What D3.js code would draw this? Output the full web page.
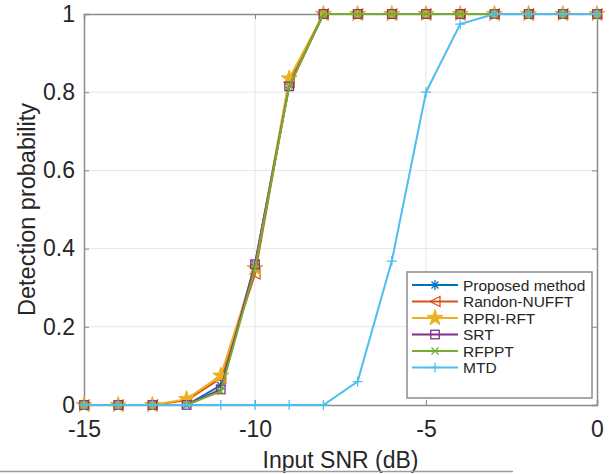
<!DOCTYPE html>
<html>
<head>
<meta charset="utf-8">
<script src="https://cdn.jsdelivr.net/npm/d3@7"></script>
<style>
body{margin:0;background:#fff;}
text{font-family:"Liberation Sans",Arial,sans-serif;fill:#262626;}
</style>
</head>
<body>
<script>
var w=614;
var h=474;
var margin={top:14,right:17,bottom:69,left:84};

// input SNR (dB)
var snr=[-15,-14,-13,-12,-11,-10,-9,-8,-7,-6,-5,-4,-3,-2,-1,0];

var proposed =[0,0,0,0,0.05,0.36,0.82,1,1,1,1,1,1,1,1,1];
var randon   =[0,0,0,0.012,0.068,0.335,0.825,1,1,1,1,1,1,1,1,1];
var rpri     =[0,0,0,0.015,0.075,0.35,0.835,1,1,1,1,1,1,1,1,1];
var srt      =[0,0,0,0,0.04,0.36,0.815,1,1,1,1,1,1,1,1,1];
var rfppt    =[0,0,0,0,0.035,0.35,0.815,1,1,1,1,1,1,1,1,1];
var mtd      =[0,0,0,0,0,0,0,0,0.06,0.368,0.8,0.974,1,1,1,1];

var names=["Proposed method","Randon-NUFFT","RPRI-RFT","SRT","RFPPT","MTD"];
var values=[proposed,randon,rpri,srt,rfppt,mtd];
var colors=["#0072BD","#D95319","#EDB120","#7E2F8E","#77AC30","#4DBEEE"];
var markers=["asterisk","triangleLeft","star","square","cross","plus"];

var xTicks=[-15,-10,-5,0];
var yTicks=[0,0.2,0.4,0.6,0.8,1];

var xScale=d3.scaleLinear().domain([-15,0]).range([margin.left,w-margin.right]);
var yScale=d3.scaleLinear().domain([0,1]).range([h-margin.bottom,margin.top]);

var svg=d3.select("body").append("svg").attr("width",w).attr("height",h);

// grid
svg.append("g").selectAll("line").data(xTicks.slice(1,-1)).enter().append("line")
    .attr("x1",function(d){return xScale(d);}).attr("x2",function(d){return xScale(d);})
    .attr("y1",yScale(0)).attr("y2",yScale(1))
    .attr("stroke","#e6e6e6").attr("stroke-width",1);
svg.append("g").selectAll("line").data(yTicks.slice(1,-1)).enter().append("line")
    .attr("x1",xScale(-15)).attr("x2",xScale(0))
    .attr("y1",function(d){return yScale(d);}).attr("y2",function(d){return yScale(d);})
    .attr("stroke","#e6e6e6").attr("stroke-width",1);

// box: top and right sides with inward ticks
var topAxis=svg.append("g").attr("transform","translate(0,"+yScale(1)+")")
    .call(d3.axisTop(xScale).tickValues(xTicks).tickSize(-5).tickFormat(""));
var rightAxis=svg.append("g").attr("transform","translate("+xScale(0)+",0)")
    .call(d3.axisRight(yScale).tickValues(yTicks).tickSize(-5).tickFormat(""));

var xAxis=svg.append("g").attr("transform","translate(0,"+yScale(0)+")")
    .call(d3.axisBottom(xScale).tickValues(xTicks).tickSize(-5).tickPadding(16).tickFormat(function(d){return String(d);}));
var yAxis=svg.append("g").attr("transform","translate("+xScale(-15)+",0)")
    .call(d3.axisLeft(yScale).tickValues(yTicks).tickSize(-5).tickPadding(9).tickFormat(function(d){return String(d);}));
[xAxis,yAxis,topAxis,rightAxis].forEach(function(a){
    a.select(".domain").attr("stroke","#8c8c8c").attr("stroke-width",1.5);
    a.selectAll(".tick line").attr("stroke","#8c8c8c");
    a.selectAll(".tick text").attr("font-size",23).attr("fill","#262626")
        .style("font-family","'Liberation Sans',Arial,sans-serif");
});

svg.append("text").attr("x",(xScale(-15)+xScale(0))/2).attr("y",468)
    .attr("text-anchor","middle").attr("font-size",23).text("Input SNR (dB)");
svg.append("text").attr("transform","translate(35,"+(yScale(0.5))+") rotate(-90)")
    .attr("text-anchor","middle").attr("font-size",23.5).text("Detection probability");

// bottom rule
svg.append("line").attr("x1",0).attr("x2",513).attr("y1",471.5).attr("y2",471.5)
    .attr("stroke","#9a9a9a").attr("stroke-width",1.5);

function marker(g,type,color,size){
    var s=size;
    if(type==="asterisk"){
        g.append("path").attr("d","M"+(-s)+",0H"+s+"M0,"+(-s)+"V"+s+
            "M"+(-s*0.7)+","+(-s*0.7)+"L"+(s*0.7)+","+(s*0.7)+"M"+(-s*0.7)+","+(s*0.7)+"L"+(s*0.7)+","+(-s*0.7))
            .attr("stroke",color).attr("stroke-width",1.3).attr("fill","none");
    } else if(type==="triangleLeft"){
        g.append("path").attr("d","M"+(-s)+",0L"+s+","+(-s)+"L"+s+","+s+"Z")
            .attr("stroke",color).attr("stroke-width",1.3).attr("fill","none");
    } else if(type==="star"){
        g.append("path").attr("d",d3.symbol().type(d3.symbolStar).size(s*s*3.2)())
            .attr("stroke",color).attr("stroke-width",1).attr("fill",color);
    } else if(type==="square"){
        g.append("rect").attr("x",-s*0.85).attr("y",-s*0.85).attr("width",s*1.7).attr("height",s*1.7)
            .attr("stroke",color).attr("stroke-width",1.3).attr("fill","none");
    } else if(type==="cross"){
        g.append("path").attr("d","M"+(-s*0.7)+","+(-s*0.7)+"L"+(s*0.7)+","+(s*0.7)+"M"+(-s*0.7)+","+(s*0.7)+"L"+(s*0.7)+","+(-s*0.7))
            .attr("stroke",color).attr("stroke-width",1.3).attr("fill","none");
    } else if(type==="plus"){
        g.append("path").attr("d","M"+(-s)+",0H"+s+"M0,"+(-s)+"V"+s)
            .attr("stroke",color).attr("stroke-width",1.3).attr("fill","none");
    }
}

var line=d3.line().x(function(d,i){return xScale(snr[i]);}).y(function(d){return yScale(d);});

values.forEach(function(vals,k){
    var g=svg.append("g");
    g.append("path").datum(vals).attr("d",line)
        .attr("fill","none").attr("stroke",colors[k]).attr("stroke-width",2);
    vals.forEach(function(v,i){
        var m=g.append("g").attr("transform","translate("+xScale(snr[i])+","+yScale(v)+")");
        marker(m,markers[k],colors[k],5);
    });
});

// legend
var lg=svg.append("g").attr("transform","translate(407,272)");
lg.append("rect").attr("width",185).attr("height",126)
    .attr("fill","#fff").attr("stroke","#8c8c8c").attr("stroke-width",1.5);
names.forEach(function(n,k){
    var y=13+k*16.5;
    var row=lg.append("g");
    row.append("line").attr("x1",5).attr("x2",51).attr("y1",y).attr("y2",y)
        .attr("stroke",colors[k]).attr("stroke-width",2);
    marker(row.append("g").attr("transform","translate(28,"+y+")"),markers[k],colors[k],5);
    row.append("text").attr("x",56).attr("y",y+5.5).attr("font-size",15.5).text(n);
});
</script>
</body>
</html>
